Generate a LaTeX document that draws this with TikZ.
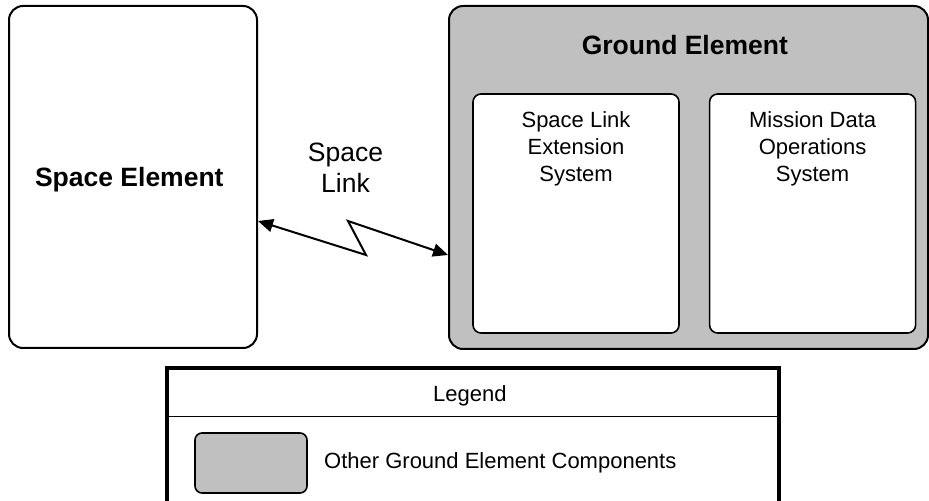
\documentclass[tikz,border=0pt]{standalone}
\usepackage{fontspec}
\setmainfont{Liberation Sans}
\usetikzlibrary{positioning,arrows.meta}
\definecolor{groundgray}{HTML}{C0C0C0}

\begin{document}
\begin{tikzpicture}[x = .5pt, y = -.5pt,
    every node/.style = { align = center, inner sep = 0pt, font = \fontsize{11}{13.5}\selectfont },
    big/.style = { font = \fontsize{13.25}{15.5}\selectfont },
    bigbold/.style = { font = \fontsize{13.25}{15.5}\selectfont\bfseries },
    element/.style = { draw, line width = 1pt, rounded corners = 7pt },
    system/.style = { draw, fill = white, line width = .8pt, rounded corners = 4pt,
                      minimum width = 103pt, minimum height = 119.5pt },
    link/.style = { line width = 1pt,
                    {Triangle[length = 7.5pt, width = 6.5pt]}-{Triangle[length = 7.5pt, width = 6.5pt]} }]
  \useasboundingbox (0,0) rectangle (929,501);

  \node [element, minimum width = 124pt, minimum height = 171pt] (space) at (133,177) {};
  \node [bigbold] (spacetitle) at (133,180) { Space Element };

  \node [element, fill = groundgray, minimum width = 239.5pt, minimum height = 171.5pt] (ground) at (688.5,177.5) {};
  \node [bigbold, below = 15pt of ground.north] (groundtitle) { Ground Element };
  \node [system] (sle) at (576,213.5) {};
  \node [system, right = 14.5pt of sle] (mdos) {};
  \node [below = 9pt of sle.north] (sletext) { Space Link \\ Extension \\ System };
  \node [below = 9pt of mdos.north] (mdostext) { Mission Data \\ Operations \\ System };

  % space link
  \node [big] (linklabel) at (345.5,168) { Space \\ Link };
  \coordinate (kneeA) at (366,255);
  \coordinate (kneeB) at (348,221);
  \draw [link] (space.east |- kneeB) -- (kneeA) -- (kneeB) -- (ground.west |- kneeA);

  % legend
  \node [draw, line width = 2pt, outer sep = 0pt, anchor = north west,
         minimum width = 306pt, minimum height = 90pt] (legend) at (167,368) {};
  \node (legendtitle) at (473,396) { Legend };
  \coordinate (hdr) at (0,416);
  \draw [line width = .5pt] (legend.west |- hdr) -- (legend.east |- hdr);
  \node [draw, fill = groundgray, line width = .8pt, rounded corners = 3.5pt,
         minimum width = 56pt, minimum height = 30pt] (swatch) at (251,463) {};
  \node [right = 8pt of swatch] (swatchtext) { Other Ground Element Components };
\end{tikzpicture}
\end{document}
